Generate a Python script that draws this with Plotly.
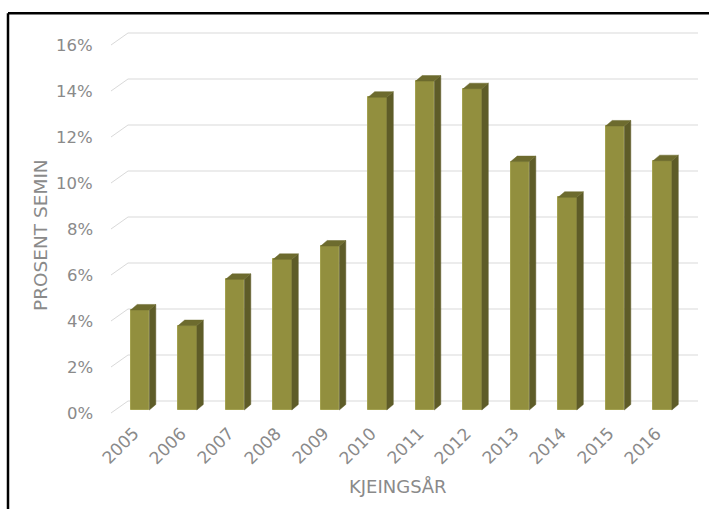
import plotly.graph_objects as go

# Share of semen-inseminated calvings per calving year
years = ["2005", "2006", "2007", "2008", "2009", "2010",
         "2011", "2012", "2013", "2014", "2015", "2016"]
percent = [4.35, 3.67, 5.68, 6.55, 7.13, 13.6, 14.3, 13.97, 10.8, 9.25, 12.35, 10.84]
y_ticks = [0, 2, 4, 6, 8, 10, 12, 14, 16]

# Page geometry (pixels)
W, H = 709, 509
X0_PX, STEP_PX = 140.0, 47.5      # centre of first category, category spacing
Y0_PX, UNIT_PX = 410.0, 23.0      # baseline of bar fronts, pixels per percent

FRONT = "#928F3E"
SIDE = "#5E5C28"
TOP = "#6D6B2E"
EDGE = "#A3A150"
GRID = "#D9D9D9"
TEXT = "#8A8A8A"
FONT = "DejaVu Sans"

BAR_W = 18.6 / STEP_PX            # bar width in category units
DX = 6.5 / STEP_PX                # depth offset, x (category units)
DY = 5.5 / UNIT_PX                # depth offset, y (percent units)

x_range = [(0 - X0_PX) / STEP_PX, (W - X0_PX) / STEP_PX]
y_range = [(Y0_PX - H) / UNIT_PX, Y0_PX / UNIT_PX]


def px_x(p):
    return p / W


def px_y(p):
    return (H - p) / H


xs = list(range(len(years)))

fig = go.Figure()

# front faces
fig.add_trace(go.Bar(
    x=xs, y=percent, width=BAR_W,
    marker=dict(color=FRONT, line=dict(color=EDGE, width=1)),
    hoverinfo="skip", showlegend=False,
))

# side and top faces of each column
side_x, side_y, top_x, top_y = [], [], [], []
for i, v in zip(xs, percent):
    r = i + BAR_W / 2
    l = i - BAR_W / 2
    side_x += [r, r + DX, r + DX, r, r, None]
    side_y += [0, DY, v + DY, v, 0, None]
    top_x += [l, l + DX, r + DX, r, l, None]
    top_y += [v, v + DY, v + DY, v, v, None]

fig.add_trace(go.Scatter(x=side_x, y=side_y, mode="lines", fill="toself",
                         fillcolor=SIDE, line=dict(color=SIDE, width=0.5),
                         hoverinfo="skip", showlegend=False))
fig.add_trace(go.Scatter(x=top_x, y=top_y, mode="lines", fill="toself",
                         fillcolor=TOP, line=dict(color=TOP, width=0.5),
                         hoverinfo="skip", showlegend=False))

# wall gridlines with the slanted floor/side edge, plus tick labels
FRONT_OFF = -3.0 / UNIT_PX
BACK_OFF = 9.0 / UNIT_PX
shapes = []
annotations = []
for t in y_ticks:
    yf = t + FRONT_OFF
    yb = t + BACK_OFF
    shapes.append(dict(type="line", xref="paper", yref="y",
                       x0=px_x(111), y0=yf, x1=px_x(128), y1=yb,
                       line=dict(color=GRID, width=1), layer="below"))
    shapes.append(dict(type="line", xref="paper", yref="y",
                       x0=px_x(128), y0=yb, x1=px_x(698), y1=yb,
                       line=dict(color=GRID, width=1), layer="below"))
    annotations.append(dict(text=f"{t}%", xref="paper", yref="y",
                            x=px_x(95), y=yf, xanchor="right", yanchor="middle",
                            showarrow=False, font=dict(family=FONT, size=16.5, color=TEXT)))

# rotated category labels
for i, yr in zip(xs, years):
    annotations.append(dict(text=yr, xref="x", yref="paper",
                            x=i, xshift=-20, y=px_y(446),
                            xanchor="center", yanchor="middle", textangle=-45,
                            showarrow=False, font=dict(family=FONT, size=17, color=TEXT)))

# axis titles
annotations.append(dict(text="KJEINGSÅR", xref="paper", yref="paper",
                        x=px_x(397), y=px_y(486), xanchor="center", yanchor="middle",
                        showarrow=False, font=dict(family=FONT, size=18, color=TEXT)))
annotations.append(dict(text="PROSENT SEMIN", xref="paper", yref="paper",
                        x=px_x(40), y=px_y(235), xanchor="center", yanchor="middle",
                        textangle=-90, showarrow=False,
                        font=dict(family=FONT, size=18.5, color=TEXT)))

# chart frame (top and left edges visible)
shapes.append(dict(type="line", xref="paper", yref="paper",
                   x0=px_x(8), y0=px_y(13.3), x1=1.01, y1=px_y(13.3),
                   line=dict(color="black", width=2.5)))
shapes.append(dict(type="line", xref="paper", yref="paper",
                   x0=px_x(8), y0=px_y(13.3), x1=px_x(8), y1=-0.01,
                   line=dict(color="black", width=2.5)))

fig.update_layout(
    width=W, height=H,
    margin=dict(l=0, r=0, t=0, b=0),
    paper_bgcolor="white", plot_bgcolor="rgba(0,0,0,0)",
    xaxis=dict(range=x_range, domain=[0, 1], visible=False, fixedrange=True),
    yaxis=dict(range=y_range, domain=[0, 1], visible=False, fixedrange=True),
    shapes=shapes, annotations=annotations,
    bargap=0, showlegend=False,
)

fig.write_html("out.html")
